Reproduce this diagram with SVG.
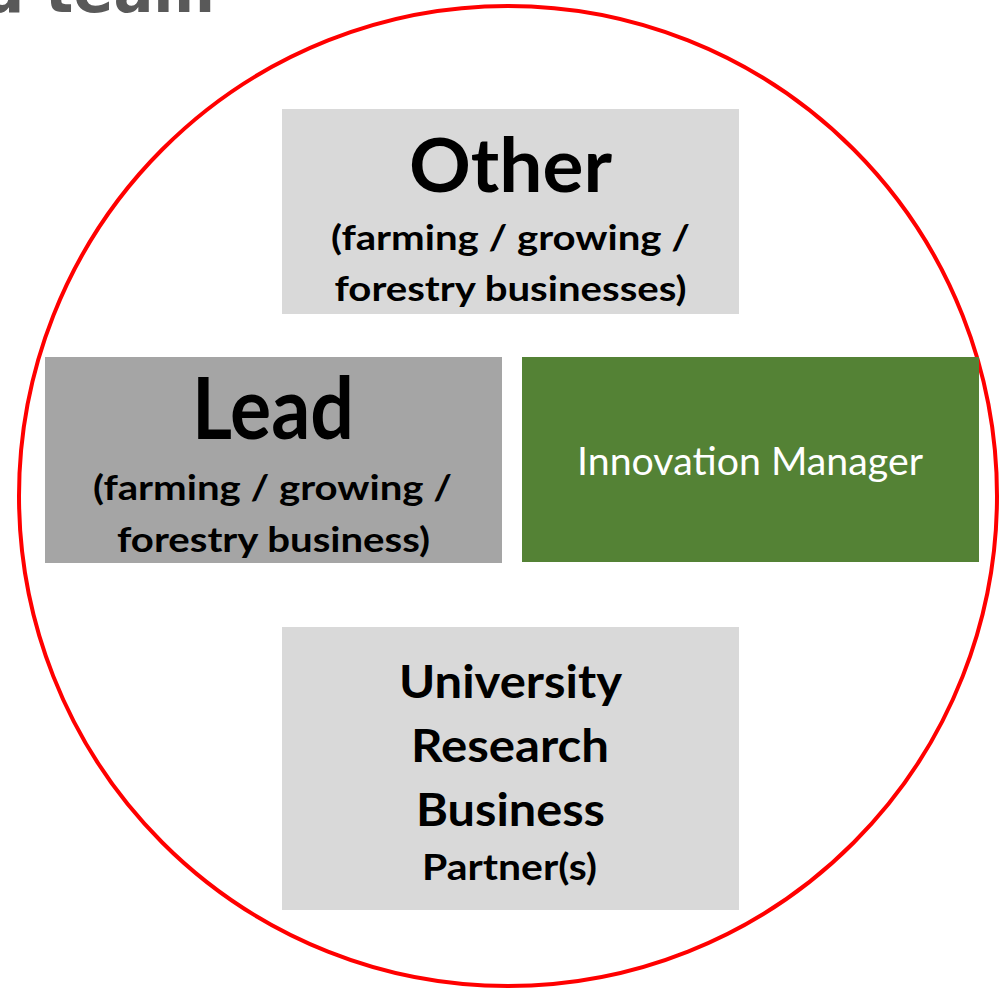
<svg xmlns="http://www.w3.org/2000/svg" width="1000" height="989" viewBox="0 0 1000 989">
<style>
.lbl{font-family:Lato,"Open Sans","Liberation Sans",sans-serif;font-weight:bold;fill:#000;text-anchor:middle}
.im{font-family:Lato,"Open Sans","Liberation Sans",sans-serif;font-weight:normal;fill:#fff;text-anchor:middle}
.title{font-family:"DejaVu Sans","Liberation Sans",sans-serif;font-weight:bold;fill:#595959}
</style>
<rect width="1000" height="989" fill="#fff"/>
<text class="title" x="-18" y="12" font-size="62" textLength="233" lengthAdjust="spacingAndGlyphs">d team</text>
<ellipse cx="508" cy="496" rx="489" ry="490" fill="none" stroke="#ff0000" stroke-width="4"/>
<g id="other">
<rect x="282" y="109" width="457" height="205" fill="#d9d9d9"/>
<text class="lbl" x="510.5" y="192" font-size="74" textLength="203" lengthAdjust="spacingAndGlyphs">Other</text>
<text class="lbl" x="510.5" y="250" font-size="35" textLength="359" lengthAdjust="spacingAndGlyphs">(farming / growing /</text>
<text class="lbl" x="510.5" y="301" font-size="35" textLength="352" lengthAdjust="spacingAndGlyphs">forestry businesses)</text>
</g>
<g id="lead">
<rect x="45" y="357" width="457" height="206" fill="#a5a5a5"/>
<text class="lbl" x="273" y="439" font-size="86" textLength="162" lengthAdjust="spacingAndGlyphs">Lead</text>
<text class="lbl" x="272.5" y="500" font-size="35" textLength="359" lengthAdjust="spacingAndGlyphs">(farming / growing /</text>
<text class="lbl" x="273.5" y="552" font-size="35" textLength="313" lengthAdjust="spacingAndGlyphs">forestry business)</text>
</g>
<g id="innovation-manager">
<rect x="522" y="357" width="457" height="205" fill="#548235"/>
<text class="im" x="750" y="475" font-size="38" textLength="346" lengthAdjust="spacingAndGlyphs">Innovation Manager</text>
</g>
<g id="partners">
<rect x="282" y="627" width="457" height="283" fill="#d9d9d9"/>
<text class="lbl" x="510.5" y="698" font-size="45" textLength="223" lengthAdjust="spacingAndGlyphs">University</text>
<text class="lbl" x="510" y="762" font-size="45" textLength="198" lengthAdjust="spacingAndGlyphs">Research</text>
<text class="lbl" x="510.5" y="826" font-size="45" textLength="189" lengthAdjust="spacingAndGlyphs">Business</text>
<text class="lbl" x="509.5" y="880" font-size="36" textLength="175" lengthAdjust="spacingAndGlyphs">Partner(s)</text>
</g>
<g id="connectors"></g>
</svg>
